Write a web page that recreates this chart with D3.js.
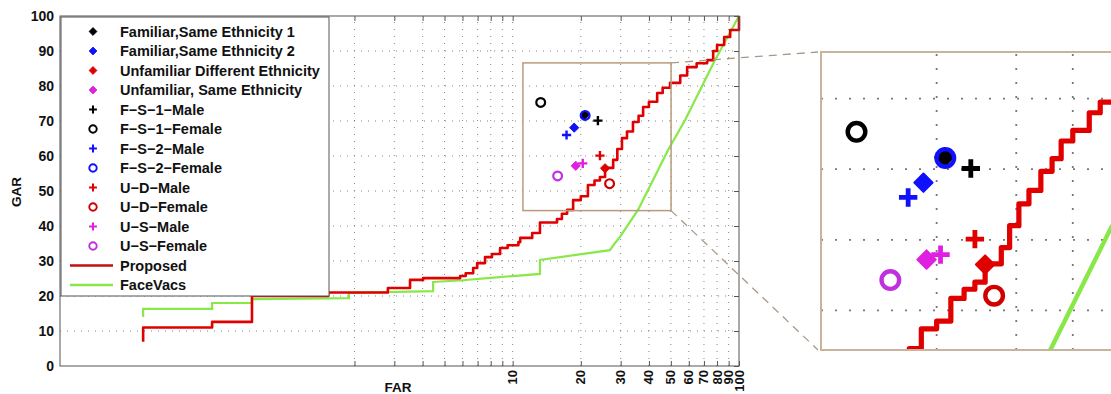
<!DOCTYPE html>
<html>
<head>
<meta charset="utf-8">
<script src="https://d3js.org/d3.v7.min.js"></script>
<style>
  body { margin: 0; background: #fff; }
  text { font-family: "Liberation Sans", Arial, sans-serif; font-weight: bold; fill: #111; }
</style>
</head>
<body>
<div id="chart"></div>
<script>

// ---- data ----
const farTicks = [2, 3, 4, 5, 6, 7, 8, 9, 10, 20, 30, 40, 50, 60, 70, 80, 90, 100];
const farLabels = [10, 20, 30, 40, 50, 60, 70, 80, 90, 100];
const garTicks = [0, 10, 20, 30, 40, 50, 60, 70, 80, 90, 100];

// Proposed (red staircase, drawn step-after)
const proposedFar = [0.233, 0.233, 0.47, 0.705, 1.53, 2.81, 3.52, 4.02, 5.86, 6.2, 6.69, 6.97, 7.55, 8.1, 8.8, 9.5,
  10.6, 10.8, 12.2, 13.2, 15.7, 16.5, 17.4, 18.5, 20, 21.5, 23, 24.3, 25.6, 27.8, 29, 30.4, 32, 34, 36, 37.7,
  40, 43.5, 46, 49.6, 55, 59, 65, 72.3, 76.9, 80, 86, 91.4, 100];
const proposedGar = [6.9, 11, 12.6, 20, 21, 22.3, 24.6, 25.1, 25.7, 26.5, 28, 29.4, 31.1, 32, 33.7, 34.5,
  35.4, 36.6, 38, 41, 42, 43.5, 44.6, 47.4, 48.5, 51.7, 53, 54, 56.6, 58.9, 62, 65.1, 67, 69.7, 71.5, 74,
  75.5, 78, 79.5, 80.9, 83, 85.4, 86.5, 87.4, 90, 91.7, 94, 96, 100];

// FaceVacs (green)
const faceVacsFar = [0.233, 0.233, 0.47, 0.47, 0.705, 0.705, 1.89, 1.89, 4.45, 4.45, 6, 8, 10, 13.2, 13.2,
  26.9, 28.3, 29.8, 35.8, 48.6, 57.8, 78.4, 100];
const faceVacsGar = [14, 16.3, 16.3, 18, 18, 19.1, 19.4, 20.9, 21.4, 24, 24.5, 25.2, 25.7, 26.3, 30.3,
  33.1, 35.1, 36.9, 44.6, 61.7, 70.3, 87.4, 100];

// individual operating points
const pointNames = ["Familiar,Same Ethnicity 1", "Familiar,Same Ethnicity 2", "Unfamiliar Different Ethnicity",
  "Unfamiliar, Same Ethnicity", "F\u2212S\u22121\u2212Male", "F\u2212S\u22121\u2212Female", "F\u2212S\u22122\u2212Male",
  "F\u2212S\u22122\u2212Female", "U\u2212D\u2212Male", "U\u2212D\u2212Female", "U\u2212S\u2212Male", "U\u2212S\u2212Female"];
const pointFar = [20.8, 18.7, 25.6, 19.0, 23.8, 13.3, 17.3, 20.9, 24.3, 26.8, 20.4, 15.8];
const pointGar = [71.7, 68.1, 56.5, 57.2, 70.1, 75.3, 66.0, 71.6, 60.1, 52.1, 57.9, 54.3];
const pointMarker = ["diamond", "diamond", "diamond", "diamond", "plus", "circle", "plus", "circle", "plus", "circle", "plus", "circle"];
const pointColor = ["#000", "#1010ff", "#e00000", "#e020e0", "#000", "#000", "#1010ff", "#1010ff", "#e00000", "#d00000", "#e020e0", "#c030e0"];

const lineNames = ["Proposed", "FaceVacs"];
const lineColor = ["#e00000", "#88e848"];

// zoomed window
const zoomFar = [11.1, 50.1];
const zoomGar = [44.4, 86.6];

const width = 1111, height = 394;

const svg = d3.select("#chart").append("svg")
  .attr("width", width).attr("height", height);

const x = d3.scaleLog().domain([0.1, 100]).range([60, 739]);
const y = d3.scaleLinear().domain([0, 100]).range([366, 16]);

const xi = d3.scaleLog().domain(zoomFar).range([821, 1117]);
const yi = d3.scaleLinear().domain(zoomGar).range([350, 52]);

const proposed = proposedFar.map((f, i) => [f, proposedGar[i]]);
const faceVacs = faceVacsFar.map((f, i) => [f, faceVacsGar[i]]);

function marker(g, type, color, s) {
  if (type === "diamond") {
    const r = 4.6 * s;
    g.append("path").attr("d", `M0,${-r}L${r},0L0,${r}L${-r},0Z`)
      .attr("fill", color).attr("stroke", color).attr("stroke-width", s).attr("stroke-linejoin", "round");
  } else if (type === "plus") {
    const h = 4.6 * s;
    g.append("path").attr("d", `M${-h},0H${h}M0,${-h}V${h}`)
      .attr("stroke", color).attr("stroke-width", 2.4 * s).attr("fill", "none");
  } else {
    g.append("circle").attr("r", 4.4 * s)
      .attr("fill", "none").attr("stroke", color).attr("stroke-width", 2.2 * s);
  }
}

function drawPanel(g, xs, ys, s, xGrid, yGrid) {
  const [x0, x1] = xs.range(), [y0, y1] = ys.range();

  // dotted grid
  g.append("g").selectAll("line").data(xGrid).join("line")
    .attr("x1", d => xs(d)).attr("x2", d => xs(d))
    .attr("y1", y0).attr("y2", y1)
    .attr("stroke", "#777").attr("stroke-width", s * 0.9)
    .attr("stroke-dasharray", `${s},${6 * s}`);
  g.append("g").selectAll("line").data(yGrid).join("line")
    .attr("y1", d => ys(d)).attr("y2", d => ys(d))
    .attr("x1", x0).attr("x2", x1)
    .attr("stroke", "#777").attr("stroke-width", s * 0.9)
    .attr("stroke-dasharray", `${s},${6 * s}`);

  g.append("path").datum(faceVacs)
    .attr("d", d3.line().x(d => xs(d[0])).y(d => ys(d[1])))
    .attr("fill", "none").attr("stroke", lineColor[1]).attr("stroke-width", 2.2 * s);

  g.append("path").datum(proposed)
    .attr("d", d3.line().curve(d3.curveStepAfter).x(d => xs(d[0])).y(d => ys(d[1])))
    .attr("fill", "none").attr("stroke", lineColor[0]).attr("stroke-width", 2.6 * s)
    .attr("stroke-linejoin", "round");

  pointNames.forEach((n, i) => {
    const m = g.append("g").attr("transform", `translate(${xs(pointFar[i])},${ys(pointGar[i])})`);
    marker(m, pointMarker[i], pointColor[i], s);
  });
}

// ---- main axes ----
const main = svg.append("g");
drawPanel(main, x, y, 1, farTicks.slice(0, -1), garTicks.slice(1, -1));

// frame and ticks
main.append("rect").attr("x", 60).attr("y", 16).attr("width", 679).attr("height", 350)
  .attr("fill", "none").attr("stroke", "#555").attr("stroke-width", 1);

main.append("g").attr("transform", "translate(0,366)")
  .call(d3.axisBottom(x).tickValues(farTicks).tickSizeInner(-5).tickSizeOuter(0).tickFormat(""))
  .call(a => a.select(".domain").remove())
  .call(a => a.selectAll("line").attr("stroke", "#555"));
main.append("g").attr("transform", "translate(0,16)")
  .call(d3.axisTop(x).tickValues(farTicks).tickSizeInner(-5).tickSizeOuter(0).tickFormat(""))
  .call(a => a.select(".domain").remove())
  .call(a => a.selectAll("line").attr("stroke", "#555"));
main.append("g").attr("transform", "translate(739,0)")
  .call(d3.axisRight(y).tickValues(garTicks).tickSizeInner(-5).tickSizeOuter(0).tickFormat(""))
  .call(a => a.select(".domain").remove())
  .call(a => a.selectAll("line").attr("stroke", "#555"));

// y tick labels
main.append("g").selectAll("text").data(garTicks).join("text")
  .attr("x", 54).attr("y", d => y(d) + 5)
  .attr("text-anchor", "end").attr("font-size", 14)
  .text(d => d);

// x tick labels (rotated)
main.append("g").selectAll("text").data(farLabels).join("text")
  .attr("transform", d => `translate(${x(d) + 4.5},370) rotate(-90)`)
  .attr("text-anchor", "end").attr("font-size", 13)
  .text(d => d);

svg.append("text").attr("transform", "translate(21,192) rotate(-90)")
  .attr("text-anchor", "middle").attr("font-size", 13.5).text("GAR");
svg.append("text").attr("x", 398).attr("y", 392)
  .attr("text-anchor", "middle").attr("font-size", 13.5).text("FAR");

// ---- legend ----
const leg = svg.append("g");
leg.append("rect").attr("x", 61).attr("y", 17).attr("width", 268).attr("height", 279)
  .attr("fill", "#fff").attr("stroke", "#555").attr("stroke-width", 1);
const rowY = i => 31.5 + i * 19.5;
pointNames.forEach((n, i) => {
  const m = leg.append("g").attr("transform", `translate(93,${rowY(i)})`);
  marker(m, pointMarker[i], pointColor[i], 0.85);
  leg.append("text").attr("x", 120).attr("y", rowY(i) + 5).attr("font-size", 14.5).text(n);
});
lineNames.forEach((n, j) => {
  const yy = rowY(pointNames.length + j);
  leg.append("line").attr("x1", 70).attr("x2", 113).attr("y1", yy).attr("y2", yy)
    .attr("stroke", j === 0 ? "#c01010" : lineColor[1]).attr("stroke-width", 2.5);
  leg.append("text").attr("x", 120).attr("y", yy + 5).attr("font-size", 14.5).text(n);
});

// ---- zoom rectangle, connectors and inset ----
const tan = "#b89a7c";
svg.append("rect")
  .attr("x", x(zoomFar[0])).attr("y", y(zoomGar[1]))
  .attr("width", x(zoomFar[1]) - x(zoomFar[0])).attr("height", y(zoomGar[0]) - y(zoomGar[1]))
  .attr("fill", "none").attr("stroke", tan).attr("stroke-width", 1.5);

svg.append("line")
  .attr("x1", x(zoomFar[1])).attr("y1", y(zoomGar[1])).attr("x2", xi(zoomFar[0]) - 3).attr("y2", yi(zoomGar[1]))
  .attr("stroke", "#a89a8a").attr("stroke-width", 1.3).attr("stroke-dasharray", "8,6");
svg.append("line")
  .attr("x1", x(zoomFar[1])).attr("y1", y(zoomGar[0])).attr("x2", xi(zoomFar[0]) - 3).attr("y2", yi(zoomGar[0]))
  .attr("stroke", "#a89a8a").attr("stroke-width", 1.3).attr("stroke-dasharray", "8,6");

svg.append("clipPath").attr("id", "inset-clip").append("rect")
  .attr("x", 821).attr("y", 52).attr("width", 296).attr("height", 298);

const inset = svg.append("g");
inset.append("rect").attr("x", 821).attr("y", 52).attr("width", 296).attr("height", 298)
  .attr("fill", "#fff");
const insetBody = inset.append("g").attr("clip-path", "url(#inset-clip)");
drawPanel(insetBody, xi, yi, 2, [20, 30, 40], [50, 60, 70, 80]);
inset.append("rect").attr("x", 821).attr("y", 52).attr("width", 296).attr("height", 298)
  .attr("fill", "none").attr("stroke", "#c8b49c").attr("stroke-width", 2);

</script>
</body>
</html>
